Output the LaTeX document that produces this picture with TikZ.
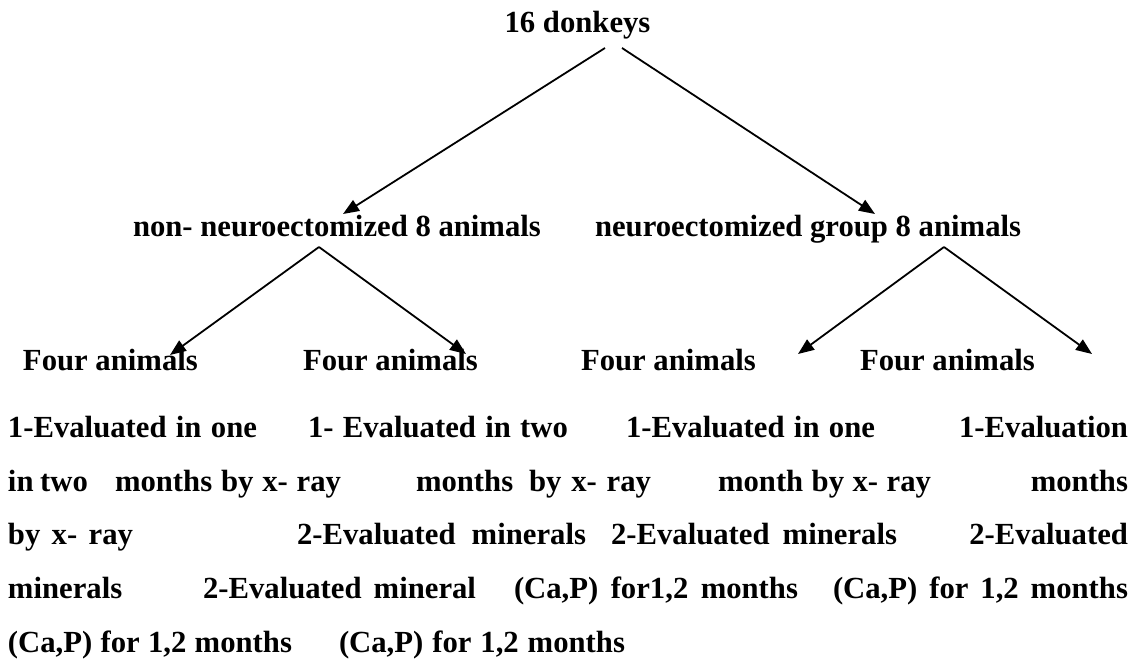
\documentclass[tikz,border=0pt]{standalone}
\usepackage{fontspec}
\setmainfont{Liberation Serif}
\usetikzlibrary{arrows.meta}
\tikzset{
  txt/.style={inner sep=0pt, outer sep=0pt, anchor=base west, font=\fontsize{30.7pt}{36pt}\selectfont\bfseries},
  conn/.style={line width=1.8pt, -{Triangle[length=16pt,width=12.5pt]}}
}
\newcommand{\jb}[2]{\makebox[#1pt][s]{#2}}
\begin{document}
\begin{tikzpicture}[x=1pt,y=-1pt]
\useasboundingbox (0,0) rectangle (1138,661);
% level 0 and 1
\node[txt, anchor=base] (root) at (577.5,33) {16 donkeys};
\node[txt] (non) at (133,236) {non- neuroectomized 8 animals};
\node[txt] (neu) at (595,236) {neuroectomized group 8 animals};
% level 2
\node[txt] (f1) at (23,370) {Four animals};
\node[txt] (f2) at (303,370) {Four animals};
\node[txt] (f3) at (581,370) {Four animals};
\node[txt] (f4) at (860,370) {Four animals};
% connector ends
\coordinate (rootL) at (605,48);
\coordinate (rootR) at (622,48);
\coordinate (nonIn) at (343,214);
\coordinate (neuIn) at (875,214);
\coordinate (nonOut) at (319,247);
\coordinate (neuOut) at (944,247);
\coordinate (f1In) at (170,355);
\coordinate (f2In) at (466,354);
\coordinate (f3In) at (798,354);
\coordinate (f4In) at (1092,354);
\draw[conn] (rootL) -- (nonIn);
\draw[conn] (rootR) -- (neuIn);
\draw[conn] (nonOut) -- (f1In);
\draw[conn] (nonOut) -- (f2In);
\draw[conn] (neuOut) -- (f3In);
\draw[conn] (neuOut) -- (f4In);
% body text, line 1
\node[txt] (b11) at (8,437) {\jb{249}{1-Evaluated in one}};
\node[txt] (b12) at (308,437) {\jb{260}{1- Evaluated in two}};
\node[txt] (b13) at (626,437) {\jb{249}{1-Evaluated in one}};
\node[txt, anchor=base east] (b14) at (1128,437) {1-Evaluation};
% line 2
\node[txt] (b21) at (8,491) {\jb{80}{in two}};
\node[txt] (b22) at (115,491) {\jb{226}{months by x- ray}};
\node[txt] (b23) at (416,491) {\jb{235}{months\hspace{6pt} by x- ray}};
\node[txt] (b24) at (718,491) {\jb{213}{month by x- ray}};
\node[txt, anchor=base east] (b25) at (1128,491) {months};
% line 3
\node[txt] (b31) at (8,544) {\jb{125}{by x- ray}};
\node[txt] (b32) at (297,544) {\jb{289}{2-Evaluated minerals}};
\node[txt] (b33) at (611,544) {\jb{286}{2-Evaluated minerals}};
\node[txt, anchor=base east] (b34) at (1128,544) {2-Evaluated};
% line 4
\node[txt] (b41) at (8,598) {minerals};
\node[txt] (b42) at (203,598) {\jb{273}{2-Evaluated mineral}};
\node[txt] (b43) at (514,598) {\jb{284}{(Ca,P) for1,2 months}};
\node[txt] (b44) at (833,598) {\jb{295}{(Ca,P) for 1,2 months}};
% line 5
\node[txt] (b51) at (8,652) {\jb{284}{(Ca,P) for 1,2 months}};
\node[txt] (b52) at (339,652) {\jb{286}{(Ca,P) for 1,2 months}};
\end{tikzpicture}
\end{document}
